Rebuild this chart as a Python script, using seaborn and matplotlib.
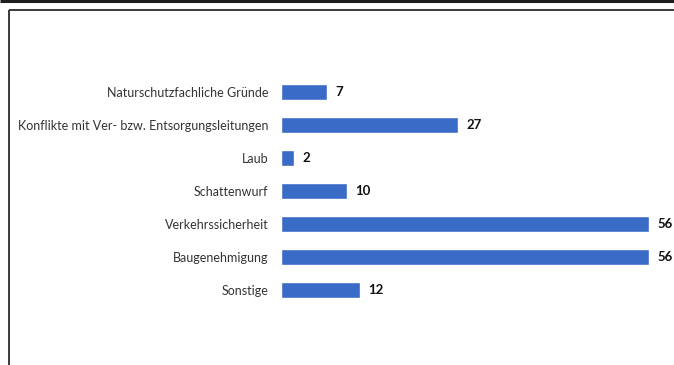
import matplotlib
matplotlib.use("Agg")
import matplotlib.pyplot as plt
from matplotlib.lines import Line2D
import seaborn as sns
import pandas as pd

categories = [
    "Naturschutzfachliche Gründe",
    "Konflikte mit Ver- bzw. Entsorgungsleitungen",
    "Laub",
    "Schattenwurf",
    "Verkehrssicherheit",
    "Baugenehmigung",
    "Sonstige",
]
counts = [7, 27, 2, 10, 56, 56, 12]

sns.set_theme(style="white")
plt.rcParams["font.family"] = ["Lato", "DejaVu Sans"]

W, H = 674, 365
fig = plt.figure(figsize=(W / 100, H / 100), dpi=100)
fig.patch.set_facecolor("white")

# frame: heavy rule on top, thin box edges on the left and top
fig.add_artist(Line2D([0, 1], [1 - 1 / H, 1 - 1 / H], transform=fig.transFigure,
                      color="#1e1e1e", lw=2.2, solid_capstyle="butt"))
fig.add_artist(Line2D([8.5 / W, 8.5 / W], [0, 1 - 10 / H], transform=fig.transFigure,
                      color="#2b2b2b", lw=1.3, solid_capstyle="butt"))
fig.add_artist(Line2D([8.5 / W, 1.01], [1 - 10 / H, 1 - 10 / H], transform=fig.transFigure,
                      color="#2b2b2b", lw=1.3, solid_capstyle="butt"))

# bar area
left, right = 281, 674
top, bottom = 75.5, 306.5
ax = fig.add_axes([left / W, 1 - bottom / H, (right - left) / W, (bottom - top) / H])

df = pd.DataFrame({"Grund": categories, "Anzahl": counts})
sns.barplot(data=df, x="Anzahl", y="Grund", orient="h", color="#3a6bc6",
            saturation=1, width=0.47, ax=ax)

ax.set_xlim(0, (right - left) / 6.57)
ax.set_ylim(len(categories) - 0.5, -0.5)
for s in ax.spines.values():
    s.set_visible(False)
ax.set_xlabel("")
ax.set_ylabel("")
ax.set_xticks([])
ax.tick_params(axis="y", length=0, pad=9, labelsize=9.0, labelcolor="#333333")
ax.set_facecolor("none")

for i, v in enumerate(counts):
    ax.text(v + 1.3, i, str(v), va="center", ha="left", fontsize=9.5,
            fontweight="bold", color="#111111", clip_on=False)

fig.savefig("out.png", dpi=100, facecolor="white")
